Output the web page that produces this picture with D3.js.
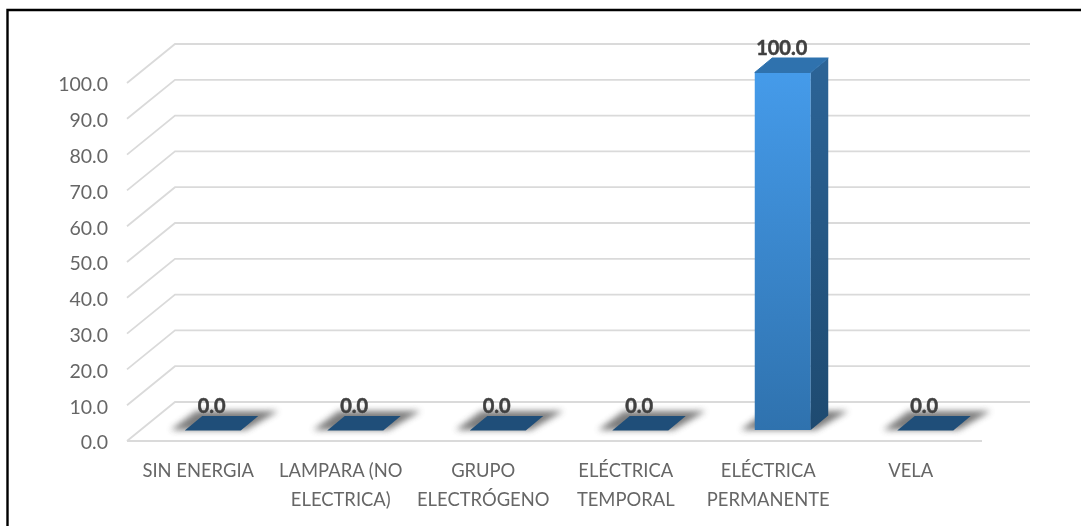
<!DOCTYPE html>
<html><head><meta charset="utf-8">
<script src="https://cdn.jsdelivr.net/npm/d3@7"></script>
<style>html,body{margin:0;padding:0;background:#fff;overflow:hidden}svg{display:block;filter:blur(0.35px)}text{font-family:Lato,"Open Sans",sans-serif}</style>
</head><body><div id="c"></div>
<script>
const categories = ["SIN ENERGIA","LAMPARA (NO ELECTRICA)","GRUPO ELECTRÓGENO","ELÉCTRICA TEMPORAL","ELÉCTRICA PERMANENTE","VELA"];
const values = [0,0,0,0,100,0];
const ticks = [0,10,20,30,40,50,60,70,80,90,100];
const labelLines = [["SIN ENERGIA"],["LAMPARA (NO","ELECTRICA)"],["GRUPO","ELECTRÓGENO"],["ELÉCTRICA","TEMPORAL"],["ELÉCTRICA","PERMANENTE"],["VELA"]];

const W=1081,H=526;
const svg=d3.select("#c").append("svg").attr("width",W).attr("height",H);
const defs=svg.append("defs");
const grad=(id,a,b)=>{const g=defs.append("linearGradient").attr("id",id).attr("x1",0).attr("y1",0).attr("x2",0).attr("y2",1);
  g.append("stop").attr("offset",0).attr("stop-color",a);g.append("stop").attr("offset",1).attr("stop-color",b);};
grad("front","#459BEA","#2F72AE");grad("side","#2C6497","#1E4A70");
defs.append("filter").attr("id","blur").attr("x","-30%").attr("y","-80%").attr("width","160%").attr("height","260%")
  .append("feGaussianBlur").attr("stdDeviation",3);

const y=d3.scaleLinear().domain([0,100]).range([441,83]);
const x=d3.scaleBand().domain(categories).range([127,982]);
const depthX=48,depthY=-39;
const insetX=14,insetY=-11;
const barW=56,barDX=17.5,barDY=-14.5;

// frame: only the top and left edges are visible
svg.append("path").attr("d",d3.line()([[7.5,H],[7.5,10],[W,10]])).attr("fill","none").attr("stroke","#000").attr("stroke-width",2.4);

const line=d3.line();
const grid=svg.append("g").attr("fill","none").attr("stroke","#dadada").attr("stroke-width",1.8);
ticks.forEach(t=>{
  grid.append("path").attr("d",line([[x.range()[0],y(t)],[x.range()[0]+depthX,y(t)+depthY],[x.range()[1]+depthX,y(t)+depthY]]));
});
grid.append("path").attr("d",line([[x.range()[0],y(0)],[x.range()[1],y(0)]]));

const axis=d3.axisLeft(y).tickValues(ticks).tickFormat(d3.format(".1f")).tickSize(0).tickPadding(0);
const ag=svg.append("g").attr("transform","translate(108,1)").call(axis);
ag.select(".domain").remove();
ag.selectAll("text").style("font-family","Lato").style("font-size","19.5px").attr("fill","#666").attr("dy","0.35em");

const cg=svg.append("g");
categories.forEach((c,i)=>{
  const cx=x(c)+x.bandwidth()/2;
  labelLines[i].forEach((l,j)=>{
    cg.append("text").attr("x",cx).attr("y",477+j*28.5).attr("text-anchor","middle")
      .attr("font-size",18.4).attr("fill","#666").text(l);
  });
});

const bars=svg.append("g");
categories.forEach((c,i)=>{
  const v=values[i];
  const cx=x(c)+x.bandwidth()/2+insetX+0.5;
  const l=cx-barW/2,r=cx+barW/2;
  const b=y(0)+insetY,t=y(v)+insetY+0.5;
  const g=bars.append("g");
  g.append("path").attr("d",line([[l-14,b],[r+5,b],[r+barDX+20,b-19],[l+barDX-6,b-19]])+"Z")
    .attr("fill","#6e6e6e").attr("opacity",.9).attr("filter","url(#blur)");
  if(v>0){
    g.append("rect").attr("x",l).attr("y",t).attr("width",barW).attr("height",b-t).attr("fill","url(#front)");
    g.append("path").attr("d",line([[r,t],[r+barDX,t+barDY],[r+barDX,b+barDY],[r,b]])+"Z").attr("fill","url(#side)");
  }
  const topColor=v>0?"#2F72AE":"#1F4E79";
  g.append("path").attr("d",line([[l,t],[r,t],[r+barDX,t+barDY],[l+barDX,t+barDY]])+"Z")
    .attr("fill",topColor).attr("stroke",v>0?topColor:"none").attr("stroke-width",1).attr("stroke-linejoin","round");
  g.append("text").attr("x",cx-1).attr("y",t+barDY-3.5).attr("text-anchor","middle")
    .attr("font-size",20).attr("font-weight",700).attr("fill","#404040")
    .attr("stroke","#404040").attr("stroke-width",0.5).text(d3.format(".1f")(v));
});
</script></body></html>
